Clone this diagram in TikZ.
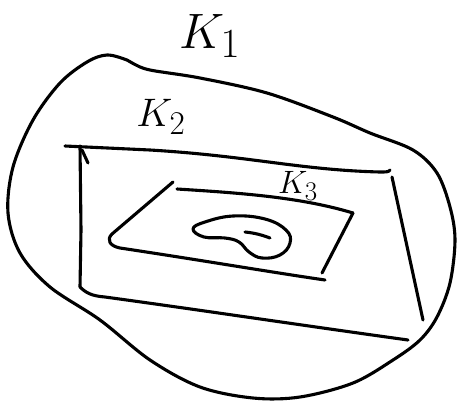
\documentclass[tikz,border=0pt]{standalone}
\tikzset{
  pen/.style={line width=3.1pt, line cap=round, line join=round},
  set label/.style={inner sep=0pt, font=\Huge}
}
\begin{document}
\begin{tikzpicture}[x=1pt, y=-1pt]
  \useasboundingbox (0,0) rectangle (460,402);

  % Outer set K_1
  \draw[pen] plot[smooth cycle, tension=0.55] coordinates {
    (107,55) (127,60) (134,64) (150,70) (200,78) (267,93) (333,117)
    (370,133) (413,150) (437,173) (450,207) (455,240) (450,283) (437,317)
    (420,340) (393,360) (353,383) (300,397) (253,398) (200,387) (150,360)
    (100,320) (50,287) (20,253) (8,213) (13,167) (33,120) (60,83) (87,62)};
  \node[set label, scale=2.0] (k1) at (210,36) {$K_1$};

  % Middle set K_2 (open quadrilateral)
  \draw[pen] (65,146) -- (150,150) .. controls (250,156) and (300,170) .. (380,172)
    .. controls (386,172) and (389,172) .. (390,170);
  \draw[pen] (80,146) -- (81,230) -- (80,287);
  \draw[pen] (82,150) -- (88,163);
  \draw[pen] (80,287) .. controls (86,293) and (92,296) .. (105,297)
    .. controls (200,310) and (300,325) .. (408,340);
  \draw[pen] (392,177) -- (423,320);
  \node[set label, scale=1.6] (k2) at (161,117) {$K_2$};

  % Inner set K_3
  \draw[pen] (177,189) .. controls (240,193) and (300,197) .. (353,213);
  \draw[pen] (173,182) -- (112,234) .. controls (106,240) and (110,246) .. (120,248)
    .. controls (200,260) and (270,272) .. (325,280);
  \draw[pen] (353,213) -- (322,273);
  \node[set label, scale=1.3] (k3) at (298,186) {$K_3$};

  % Kidney shaped compact set with a small segment inside
  \draw[pen] plot[smooth cycle, tension=0.7] coordinates {
    (193,229) (205,222) (233,216) (265,219) (286,230) (290,243) (280,255)
    (262,258) (249,252) (239,242) (225,238) (204,237)};
  \draw[pen] (245,232) .. controls (255,233) and (262,235) .. (270,238);
\end{tikzpicture}
\end{document}
